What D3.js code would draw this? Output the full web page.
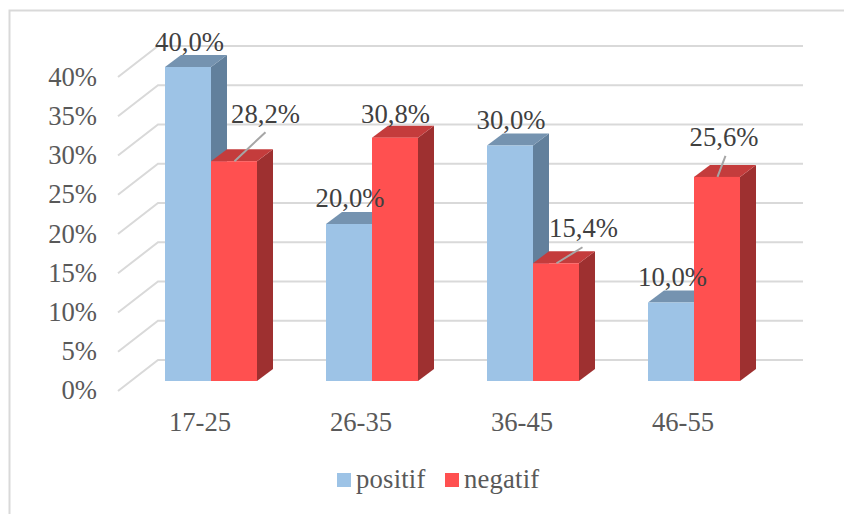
<!DOCTYPE html>
<html>
<head>
<meta charset="utf-8">
<script src="https://cdn.jsdelivr.net/npm/d3@7"></script>
<style>
  body { margin: 0; background: #fff; }
  text { font-family: "Liberation Serif", "Times New Roman", serif; }
</style>
</head>
<body>
<svg width="844" height="514"></svg>
<script>
  const categories = ['17-25', '26-35', '36-45', '46-55'];
  const series_names = ['positif', 'negatif'];
  // bar heights as drawn in the picture
  const positif = [40, 20, 30, 10];
  const negatif = [28, 31, 15, 26];
  // printed labels, they carry more decimals than the bars
  const positif_labels = ['40,0%', '20,0%', '30,0%', '10,0%'];
  const negatif_labels = ['28,2%', '30,8%', '15,4%', '25,6%'];
  const y_ticks = [0, 5, 10, 15, 20, 25, 30, 35, 40];

  const colors = {
    positif: { front: '#9dc3e6', top: '#7593b0', side: '#62809c' },
    negatif: { front: '#ff5050', top: '#c43c3c', side: '#9e3030' }
  };

  // depth of the 3d box
  const dx = 16, dy = -12;
  const font_size = 26.67;

  const svg = d3.select('svg');

  // chart frame, only top and left are in the crop
  svg.append('path')
    .attr('d', 'M9.5,514V10.5H844')
    .attr('fill', 'none')
    .attr('stroke', '#d9d9d9')
    .attr('stroke-width', 2);

  const y = d3.scaleLinear().domain([0, 40]).range([381, 67]);
  const y_label = d3.scaleLinear().domain([0, 40]).range([399, 86]);
  const x = d3.scaleBand().domain(categories).range([130.5, 774.5]);
  const inner = d3.scaleBand().domain(series_names).range([34.5, 126.5]);

  // back wall grid + floor diagonals
  const grid = svg.append('g').attr('stroke', '#d9d9d9').attr('stroke-width', 2).attr('fill', 'none');
  y_ticks.forEach(t => {
    const back = y(t) - 21;
    grid.append('path')
      .attr('d', `M118,${back + 31}L158,${back}L803,${back}`);
  });

  // tick labels
  svg.append('g').selectAll('text')
    .data(y_ticks)
    .enter()
    .append('text')
    .attr('x', 97)
    .attr('y', d => y_label(d))
    .attr('text-anchor', 'end')
    .attr('font-size', font_size)
    .attr('fill', '#595959')
    .text(d => d + '%');

  function box(g, bx, w, v, c) {
    const top = y(v), bottom = y(0);
    g.append('path').attr('fill', c.side)
      .attr('d', `M${bx + w},${top}L${bx + w + dx},${top + dy}L${bx + w + dx},${bottom + dy}L${bx + w},${bottom}Z`);
    g.append('path').attr('fill', c.top)
      .attr('d', `M${bx},${top}L${bx + dx},${top + dy}L${bx + w + dx},${top + dy}L${bx + w},${top}Z`);
    g.append('rect').attr('fill', c.front)
      .attr('x', bx).attr('y', top).attr('width', w).attr('height', bottom - top);
  }

  const series_values = [positif, negatif];
  const bars = svg.append('g');
  series_names.forEach((name, s) => {
    categories.forEach((cat, i) => {
      box(bars, x(cat) + inner(name), inner.bandwidth(), series_values[s][i], colors[name]);
    });
  });

  const center = (cat, name) => x(cat) + inner(name) + inner.bandwidth() / 2;

  // leader lines for moved labels: category index, end offset from bar top
  const leaders = [[0, 31, -29], [2, 26, -16], [3, 8, -21]];
  leaders.forEach(([c, ox, oy]) => {
    const cx = center(categories[c], 'negatif') + 0.5;
    const top = y(negatif[c]);
    svg.append('line')
      .attr('x1', cx).attr('y1', top)
      .attr('x2', cx + ox).attr('y2', top + oy)
      .attr('stroke', '#a6a6a6').attr('stroke-width', 2);
  });

  // data labels, offset from the front top of the bar
  const label_off = {
    positif: [[1.5, -16], [1, -17], [1, -17], [1.5, -17]],
    negatif: [[31.5, -38], [0.5, -15], [27.5, -26], [7, -31]]
  };
  const label_text = { positif: positif_labels, negatif: negatif_labels };
  const labels = svg.append('g');
  series_names.forEach((name, s) => {
    categories.forEach((cat, i) => {
      labels.append('text')
        .attr('x', center(cat, name) + label_off[name][i][0])
        .attr('y', y(series_values[s][i]) + label_off[name][i][1])
        .attr('text-anchor', 'middle')
        .attr('font-size', font_size)
        .attr('fill', '#404040')
        .text(label_text[name][i]);
    });
  });

  // category labels
  svg.append('g').selectAll('text')
    .data(categories)
    .enter()
    .append('text')
    .attr('x', d => x(d) + x.bandwidth() / 2 - 11)
    .attr('y', 431)
    .attr('text-anchor', 'middle')
    .attr('font-size', font_size)
    .attr('fill', '#595959')
    .text(d => d);

  // legend
  const legend_x = [337, 445];
  series_names.forEach((name, i) => {
    svg.append('rect')
      .attr('x', legend_x[i]).attr('y', 473)
      .attr('width', 14).attr('height', 14)
      .attr('fill', colors[name].front);
    svg.append('text')
      .attr('x', legend_x[i] + 19).attr('y', 488)
      .attr('font-size', font_size)
      .attr('letter-spacing', 0.2)
      .attr('fill', '#595959')
      .text(name);
  });
</script>
</body>
</html>
